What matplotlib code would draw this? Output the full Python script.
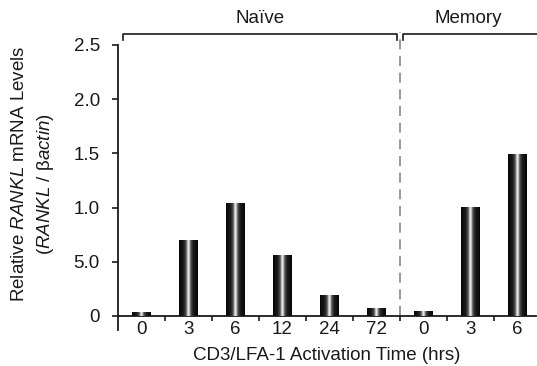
import numpy as np
import matplotlib
matplotlib.use("Agg")
import matplotlib.pyplot as plt
from matplotlib.colors import LinearSegmentedColormap

plt.rcParams['font.family'] = ['Liberation Sans', 'DejaVu Sans']
plt.rcParams['mathtext.fontset'] = 'custom'
plt.rcParams['mathtext.rm'] = 'Liberation Sans'
plt.rcParams['mathtext.it'] = 'Liberation Sans:italic'

# ---- data ----
categories = ["0", "3", "6", "12", "24", "72", "0", "3", "6"]
values = [0.03, 0.70, 1.04, 0.56, 0.19, 0.07, 0.04, 1.00, 1.49]
groups = ["Naïve", "Memory"]
group_sizes = [6, 3]
ytick_values = [0, 0.5, 1.0, 1.5, 2.0, 2.5]
ytick_labels = ["0", "5.0", "1.0", "1.5", "2.0", "2.5"]

FS = 13.5
INK = '#1a1a1a'

fig = plt.figure(figsize=(5.37, 3.66), dpi=100)
ax = fig.add_axes([118/537, 36/366, 418/537, 285/366])

x = np.arange(len(categories))
bars = ax.bar(x, values, width=0.4, color='none', edgecolor='none', zorder=3)

cmap = LinearSegmentedColormap.from_list(
    "cyl", [(0.0, "#050505"), (0.25, "#1c1c1c"), (0.39, "#5a5a5a"),
            (0.47, "#eeeeee"), (0.53, "#eeeeee"), (0.61, "#5a5a5a"),
            (0.75, "#1c1c1c"), (1.0, "#050505")])
grad = np.linspace(0, 1, 256).reshape(1, -1)
for b in bars:
    x0, w, h = b.get_x(), b.get_width(), b.get_height()
    ax.imshow(grad, cmap=cmap, aspect='auto', extent=(x0, x0 + w, 0, h),
              zorder=3, interpolation='bicubic')

ax.set_xlim(-0.5, 8.4)
ax.set_ylim(-0.13, 2.5)

for s in ['top', 'right']:
    ax.spines[s].set_visible(False)
ax.spines['bottom'].set_position(('data', 0))
for s in ['left', 'bottom']:
    ax.spines[s].set_color(INK)
    ax.spines[s].set_linewidth(1.3)

ax.set_yticks(ytick_values)
ax.set_yticklabels(ytick_labels)
ax.tick_params(axis='y', direction='out', length=4, width=1.2, pad=9,
               labelsize=FS, colors=INK)
ax.set_xticks(x)
ax.set_xticklabels(categories)
ax.tick_params(axis='x', which='major', length=0, pad=4, labelsize=FS,
               colors=INK)
ax.set_xticks(x[:-1] + 0.5, minor=True)
ax.tick_params(axis='x', which='minor', direction='out', length=3.5, width=1.2,
               colors=INK)

ax.set_xlabel("CD3/LFA-1 Activation Time (hrs)", fontsize=FS, labelpad=6,
              color=INK)

# group separator
sep = group_sizes[0] - 0.5
ax.plot([sep, sep], [0, 2.62], ls=(0, (6, 4)), color='#888888', lw=1.2,
        clip_on=False, zorder=2)

# brackets
ybr, ytk = 2.597, 2.545
starts = [-0.4, sep + 0.06]
ends = [sep - 0.06, 8.5]
for s0, e0 in zip(starts, ends):
    ax.plot([s0, s0, e0, e0], [ytk, ybr, ybr, ytk], color=INK, lw=1.2,
            clip_on=False)
for g, s0, e0 in zip(groups, starts, [sep - 0.06, 8.36]):
    ax.text((s0 + e0) / 2, 2.745, g, ha='center', va='center', fontsize=FS,
            color=INK, clip_on=False)

fig.text(20/537, 1 - 174/366, r"Relative $\mathit{RANKL}$ mRNA Levels",
         rotation=90, ha='center', va='center', fontsize=13.5, color=INK)
fig.text(46/537, 1 - 184/366, r"($\mathit{RANKL}$ / β$\mathit{actin}$)",
         rotation=90, ha='center', va='center', fontsize=13.5, color=INK)

fig.savefig("out.png", dpi=100)
